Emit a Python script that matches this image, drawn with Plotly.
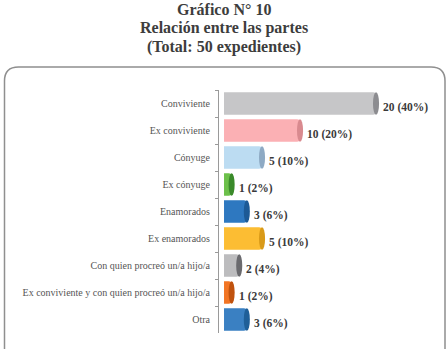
import plotly.graph_objects as go

categories = [
    "Conviviente",
    "Ex conviviente",
    "Cónyuge",
    "Ex cónyuge",
    "Enamorados",
    "Ex enamorados",
    "Con quien procreó un/a hijo/a",
    "Ex conviviente y con quien procreó un/a hijo/a",
    "Otra",
]
counts = [20, 10, 5, 1, 3, 5, 2, 1, 3]
percents = [40, 20, 10, 2, 6, 10, 4, 2, 6]
body_colors = ["#c6c6c8", "#fbb0b4", "#bcdcf2", "#6cc04a", "#2e78c0",
               "#fcbd33", "#bcbcbe", "#f27524", "#3a80c2"]
cap_colors = ["#8c8c90", "#d98a8f", "#8eaac4", "#3a8a2a", "#1d5a96",
              "#d99a18", "#6a6a6e", "#c0520e", "#1f5f98"]
title_lines = ["Gráfico N° 10", "Relación entre las partes", "(Total: 50 expedientes)"]

W, H = 448, 349
ML, MR, MT, MB = 219, 10, 90, 16
PW, PH = W - ML - MR, H - MT - MB
FONT = "Liberation Serif"


def px_x(p):
    return (p - ML) / PW


def px_y(p):
    return (H - MB - p) / PH


fig = go.Figure()
fig.add_trace(go.Bar(
    x=counts,
    y=categories,
    orientation="h",
    width=0.84,
    marker=dict(color=body_colors, line=dict(width=0), cornerradius=3),
    hoverinfo="skip",
    showlegend=False,
))

shapes = []
annotations = []
for i, (c, p) in enumerate(zip(counts, percents)):
    shapes.append(dict(type="circle", xref="x", yref="y",
                       x0=c - 0.4, x1=c + 0.4, y0=i - 0.42, y1=i + 0.42,
                       fillcolor=cap_colors[i], line=dict(width=0)))
    annotations.append(dict(x=c, y=i, xref="x", yref="y", xanchor="left",
                            yanchor="middle", xshift=5, yshift=-4,
                            text=f"{c} ({p}%)", showarrow=False,
                            font=dict(family=FONT, size=11.5, color="#3a3a3a",
                                      weight="bold")))

# rounded frame, open at the bottom
x0, x1 = px_x(4.5), px_x(445)
yt, yb = px_y(67), px_y(365)
rx, ry = 14 / PW, 14 / PH
path = (f"M {x0},{yb} L {x0},{yt - ry} Q {x0},{yt} {x0 + rx},{yt} "
        f"L {x1 - rx},{yt} Q {x1},{yt} {x1},{yt - ry} L {x1},{yb}")
shapes.append(dict(type="path", xref="paper", yref="paper", path=path,
                   line=dict(color="#8f8f8f", width=1.5), layer="below"))

for k, (line, py) in enumerate(zip(title_lines, [10, 28, 46.5])):
    annotations.append(dict(x=px_x(224), y=px_y(py), xref="paper", yref="paper",
                            xanchor="center", yanchor="middle", text=line,
                            showarrow=False,
                            font=dict(family=FONT, size=16, color="#3d3d3d",
                                      weight="bold")))

fig.update_layout(
    width=W, height=H,
    margin=dict(l=ML, r=MR, t=MT, b=MB),
    paper_bgcolor="white", plot_bgcolor="white",
    bargap=0.16,
    shapes=shapes,
    annotations=annotations,
    xaxis=dict(range=[-0.66, -0.66 + PW / 7.6], visible=False, fixedrange=True),
    yaxis=dict(
        type="category",
        categoryorder="array",
        categoryarray=categories,
        range=[len(categories) - 0.5, -0.5],
        tickson="boundaries",
        showline=True, linecolor="#9a9a9a", linewidth=1,
        ticks="outside", ticklen=3, tickcolor="#9a9a9a",
        ticklabelstandoff=6,
        showgrid=False, zeroline=False,
        tickfont=dict(family=FONT, size=10, color="#555555"),
        fixedrange=True,
    ),
)

fig.write_html("out.html")
